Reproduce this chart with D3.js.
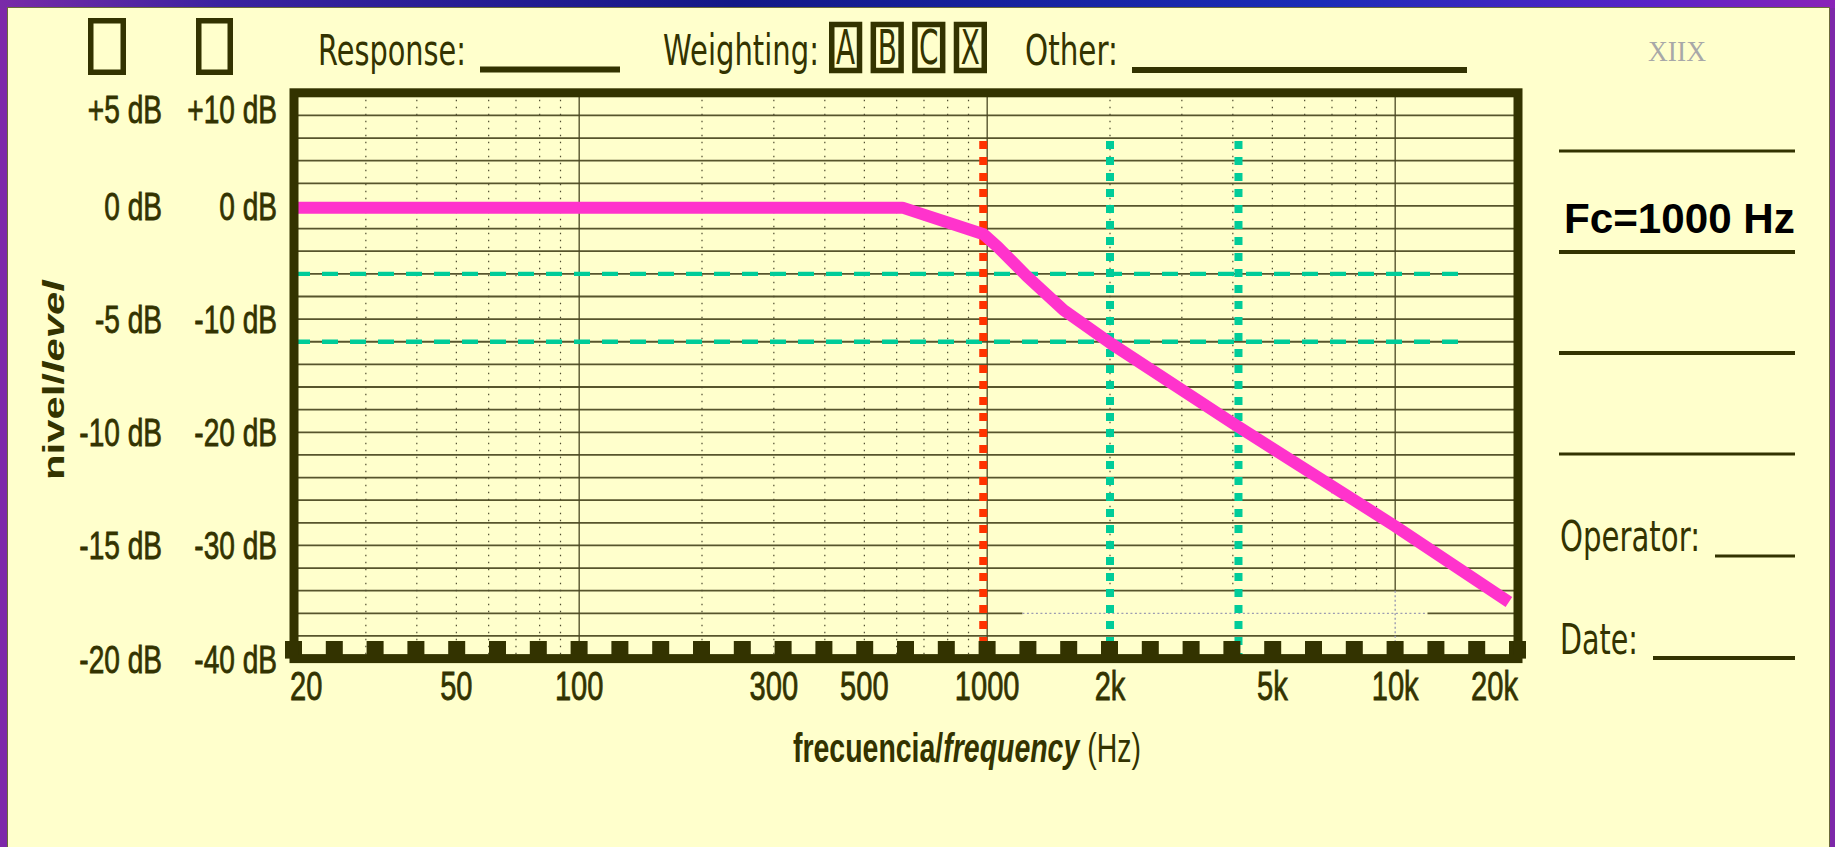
<!DOCTYPE html>
<html>
<head>
<meta charset="utf-8">
<script src="https://cdn.jsdelivr.net/npm/d3@7"></script>
<style>
  html, body { margin: 0; padding: 0; background: #7d28a9; overflow: hidden; }
  svg { display: block; }
  text { white-space: pre; }
</style>
</head>
<body>
<svg id="chart" width="1835" height="847"></svg>
<script>
// Frequency axis (Hz)
const freqTicks  = [20, 50, 100, 300, 500, 1000, 2000, 5000, 10000, 20000];
const freqLabels = ['20', '50', '100', '300', '500', '1000', '2k', '5k', '10k', '20k'];
const decadeFreqs = [100, 1000, 10000];

// Level axis (dB): two scales printed side by side
const levelTicks        = [10, 0, -10, -20, -30, -40];
const levelLabelsWide   = ['+10 dB', '0 dB', '-10 dB', '-20 dB', '-30 dB', '-40 dB'];
const levelLabelsNarrow = ['+5 dB', '0 dB', '-5 dB', '-10 dB', '-15 dB', '-20 dB'];

// Measured low-pass response
const responseFreq = [20, 620, 980, 1060, 1250, 1540, 2000, 4000, 10000, 19000];
const responseDb   = [-0.15, -0.15, -2.5, -3.6, -6.2, -9.2, -12.1, -19.2, -28.3, -35];

// Reference markers
const cutoffFreqs = [978];
const octaveFreqs = [2000, 4130];
const refLevels   = [-6, -12];
const refLevelEnd = 14300;
const markerTopDb = 5.75;

// Header fields
const weightings = ['A', 'B', 'C', 'X'];
const fcLabel = 'Fc=1000 Hz';

const W = 1835, H = 847;
const ink = '#333300';
const svg = d3.select('#chart');

const x = d3.scaleLog().domain([20, 20000]).range([294, 1518]);
const y = d3.scaleLinear().domain([-40, 10]).range([658.6, 92.8]);

// ---------- page background ----------
const defs = svg.append('defs');
const band = defs.append('linearGradient').attr('id', 'topBand').attr('x1', 0).attr('x2', 1);
[[0, '#7a2aa8'], [0.12, '#3a22a0'], [0.4, '#121888'], [0.72, '#1a2cb8'], [0.9, '#5a22c8'], [1, '#8a22b8']]
  .forEach(([o, c]) => band.append('stop').attr('offset', o).attr('stop-color', c));

svg.append('rect').attr('width', W).attr('height', H).attr('fill', '#7d28a9');
svg.append('rect').attr('width', W).attr('height', 8).attr('fill', 'url(#topBand)');
svg.append('rect').attr('x', 7.5).attr('y', 7.5).attr('width', 1822).attr('height', H)
  .attr('fill', '#ffffcc').attr('stroke', '#6b6a3a').attr('stroke-width', 1);

// ---------- text helper ----------
function addText(parent, px, py, parts, o) {
  const g = parent.append('g')
    .attr('transform', `translate(${px},${py})` + (o.rotate ? ` rotate(${o.rotate})` : ''));
  const t = g.append('text')
    .attr('text-anchor', o.anchor || 'start')
    .attr('font-family', o.family || 'Liberation Sans, Arial, sans-serif')
    .attr('font-size', o.size)
    .attr('fill', o.fill || ink);
  if (o.stroke) t.attr('stroke', o.fill || ink).attr('stroke-width', o.stroke);
  parts.forEach(p => t.append('tspan').text(p.text)
    .attr('font-weight', p.weight || o.weight || 'normal')
    .attr('font-style', p.italic ? 'italic' : 'normal'));
  let s = o.scale || 1;
  if (o.width) s = o.width / t.node().getComputedTextLength();
  t.attr('transform', `scale(${s},1)`);
  return t;
}

// ---------- grid ----------
const grid = svg.append('g');
const patchLo = 1220, patchHi = 12000, patchDb = -34, patchRow = -36;
const gridDb = d3.range(-38, 10, 2);

const hSegs = gridDb.flatMap(v => v === patchRow
  ? [[v, 20, patchLo], [v, patchHi, 20000]]
  : [[v, 20, 20000]]);
grid.selectAll('line.h').data(hSegs).join('line').attr('class', 'h')
  .attr('x1', d => x(d[1])).attr('x2', d => x(d[2]))
  .attr('y1', d => y(d[0])).attr('y2', d => y(d[0]))
  .attr('stroke', '#57552c').attr('stroke-width', 1.8);

const minorFreqs = [2, 3, 4, 5, 6, 7, 8, 9]
  .flatMap(m => [10, 100, 1000].map(d => m * d)).filter(f => f > 20);
grid.selectAll('line.minor').data(minorFreqs).join('line').attr('class', 'minor')
  .attr('x1', d => x(d)).attr('x2', d => x(d))
  .attr('y1', y(10))
  .attr('y2', d => (d >= patchLo && d <= patchHi) ? y(patchDb) : y(-40))
  .attr('stroke', '#4f4d30').attr('stroke-width', 1.2).attr('stroke-dasharray', '1.5,5.5');

grid.selectAll('line.decade').data(decadeFreqs).join('line').attr('class', 'decade')
  .attr('x1', d => x(d)).attr('x2', d => x(d))
  .attr('y1', y(10))
  .attr('y2', d => (d >= patchLo && d <= patchHi) ? y(patchDb) : y(-40))
  .attr('stroke', '#4a4824').attr('stroke-width', 1.3);

// faint annotation grid in the lower right
const faint = grid.append('g').attr('stroke', '#9c9cb2').attr('stroke-width', 1.4).attr('stroke-dasharray', '2,2.5');
faint.append('line').attr('x1', x(patchLo)).attr('x2', x(patchHi)).attr('y1', y(patchRow)).attr('y2', y(patchRow));
faint.selectAll('line.v').data(decadeFreqs.filter(f => f >= patchLo && f <= patchHi)).join('line')
  .attr('x1', d => x(d)).attr('x2', d => x(d)).attr('y1', y(patchDb)).attr('y2', y(-40));

// ---------- reference markers ----------
const marks = svg.append('g');
marks.selectAll('line.ref').data(refLevels).join('line').attr('class', 'ref')
  .attr('x1', x(20)).attr('x2', x(refLevelEnd))
  .attr('y1', d => y(d)).attr('y2', d => y(d))
  .attr('stroke', '#00cc99').attr('stroke-width', 4.3).attr('stroke-dasharray', '16,12');

marks.selectAll('line.oct').data(octaveFreqs).join('line').attr('class', 'oct')
  .attr('x1', d => x(d)).attr('x2', d => x(d))
  .attr('y1', y(markerTopDb)).attr('y2', y(-40))
  .attr('stroke', '#00cc99').attr('stroke-width', 8).attr('stroke-dasharray', '8,8');

marks.selectAll('line.fc').data(cutoffFreqs).join('line').attr('class', 'fc')
  .attr('x1', d => x(d)).attr('x2', d => x(d))
  .attr('y1', y(markerTopDb)).attr('y2', y(-40))
  .attr('stroke', '#ff3300').attr('stroke-width', 8).attr('stroke-dasharray', '8,8');

// ---------- response curve ----------
const response = responseFreq.map((f, i) => [f, responseDb[i]]);
svg.append('path').datum(response)
  .attr('d', d3.line().x(d => x(d[0])).y(d => y(d[1])))
  .attr('fill', 'none').attr('stroke', '#ff33cc').attr('stroke-width', 12)
  .attr('stroke-linejoin', 'round').attr('stroke-linecap', 'butt');

// ---------- frame with perforated bottom edge ----------
const decadePx = x(200) - x(20);
const teeth = d3.range(0, 31).map(i => x(20) - 9 + i * decadePx / 10);
svg.append('g').selectAll('rect').data(teeth).join('rect')
  .attr('x', d => d).attr('y', 641).attr('width', 17).attr('height', y(-40) - 641)
  .attr('fill', ink);
svg.append('rect')
  .attr('x', x(20)).attr('y', y(10))
  .attr('width', x(20000) - x(20)).attr('height', y(-40) - y(10))
  .attr('fill', 'none').attr('stroke', ink).attr('stroke-width', 9);

// ---------- axis labels ----------
const labels = svg.append('g');
levelTicks.forEach((v, i) => {
  const py = Math.max(y(v), y(10) + 16) + 14;
  addText(labels, 277, py, [{ text: levelLabelsWide[i] }], { anchor: 'end', size: 39, scale: 0.72, stroke: 0.8 });
  addText(labels, 162, py, [{ text: levelLabelsNarrow[i] }], { anchor: 'end', size: 39, scale: 0.72, stroke: 0.8 });
});
freqTicks.forEach((f, i) => {
  const anchor = i === 0 ? 'start' : (i === freqTicks.length - 1 ? 'end' : 'middle');
  const px = i === 0 ? x(f) - 4 : x(f);
  addText(labels, px, 700, [{ text: freqLabels[i] }], { anchor, size: 41, scale: 0.71, stroke: 0.8 });
});

addText(labels, 793, 762,
  [{ text: 'frecuencia/', weight: 'bold' }, { text: 'frequency', weight: 'bold', italic: true }, { text: ' (Hz)' }],
  { size: 40, width: 348 });
addText(labels, 63.5, 380,
  [{ text: 'nivel/', weight: 'bold' }, { text: 'level', weight: 'bold', italic: true }],
  { size: 30, width: 200, rotate: -90, anchor: 'middle' });

// ---------- header ----------
const head = svg.append('g');
const dv = 'DejaVu Sans, Verdana, sans-serif';
[[88, 126], [196, 233]].forEach(([a, b]) => head.append('rect')
  .attr('x', a + 2.75).attr('y', 20.75).attr('width', b - a - 5.5).attr('height', 51.5)
  .attr('fill', 'none').attr('stroke', ink).attr('stroke-width', 5.5));

addText(head, 318, 65, [{ text: 'Response:' }], { family: dv, size: 43, width: 148 });
head.append('line').attr('x1', 480).attr('x2', 620).attr('y1', 69.5).attr('y2', 69.5)
  .attr('stroke', ink).attr('stroke-width', 6);

addText(head, 663, 65, [{ text: 'Weighting:' }], { family: dv, size: 43, width: 156 });
const boxX = d3.scaleBand().domain(weightings).range([829, 987]).paddingInner(0.2);
weightings.forEach(w => {
  const bx = boxX(w), bw = boxX.bandwidth();
  head.append('rect').attr('x', bx + 2.75).attr('y', 24.5).attr('width', bw - 5.5).attr('height', 46)
    .attr('fill', 'none').attr('stroke', ink).attr('stroke-width', 5.5);
  addText(head, bx + bw / 2, 63.5, [{ text: w }], { family: dv, size: 48, anchor: 'middle', scale: 0.58 });
});

addText(head, 1025, 65, [{ text: 'Other:' }], { family: dv, size: 43, width: 93 });
head.append('line').attr('x1', 1132).attr('x2', 1467).attr('y1', 70).attr('y2', 70)
  .attr('stroke', ink).attr('stroke-width', 6);

addText(head, 1648, 61, [{ text: 'XIIX' }],
  { family: 'Liberation Serif, Times New Roman, serif', size: 30, width: 58, fill: '#a8a8a8' });

// ---------- right-hand panel ----------
const side = svg.append('g');
[[151, 3], [252, 4], [353, 4], [454, 3]].forEach(([ly, w]) => side.append('line')
  .attr('x1', 1559).attr('x2', 1795).attr('y1', ly).attr('y2', ly)
  .attr('stroke', ink).attr('stroke-width', w));
addText(side, 1564, 233, [{ text: fcLabel, weight: 'bold' }], { size: 42, width: 231, fill: '#000' });

addText(side, 1560, 551, [{ text: 'Operator:' }], { family: dv, size: 43, width: 140 });
side.append('line').attr('x1', 1715).attr('x2', 1795).attr('y1', 556).attr('y2', 556)
  .attr('stroke', ink).attr('stroke-width', 3);
addText(side, 1560, 654, [{ text: 'Date:' }], { family: dv, size: 43, width: 78 });
side.append('line').attr('x1', 1653).attr('x2', 1795).attr('y1', 658).attr('y2', 658)
  .attr('stroke', ink).attr('stroke-width', 4);
</script>
</body>
</html>
